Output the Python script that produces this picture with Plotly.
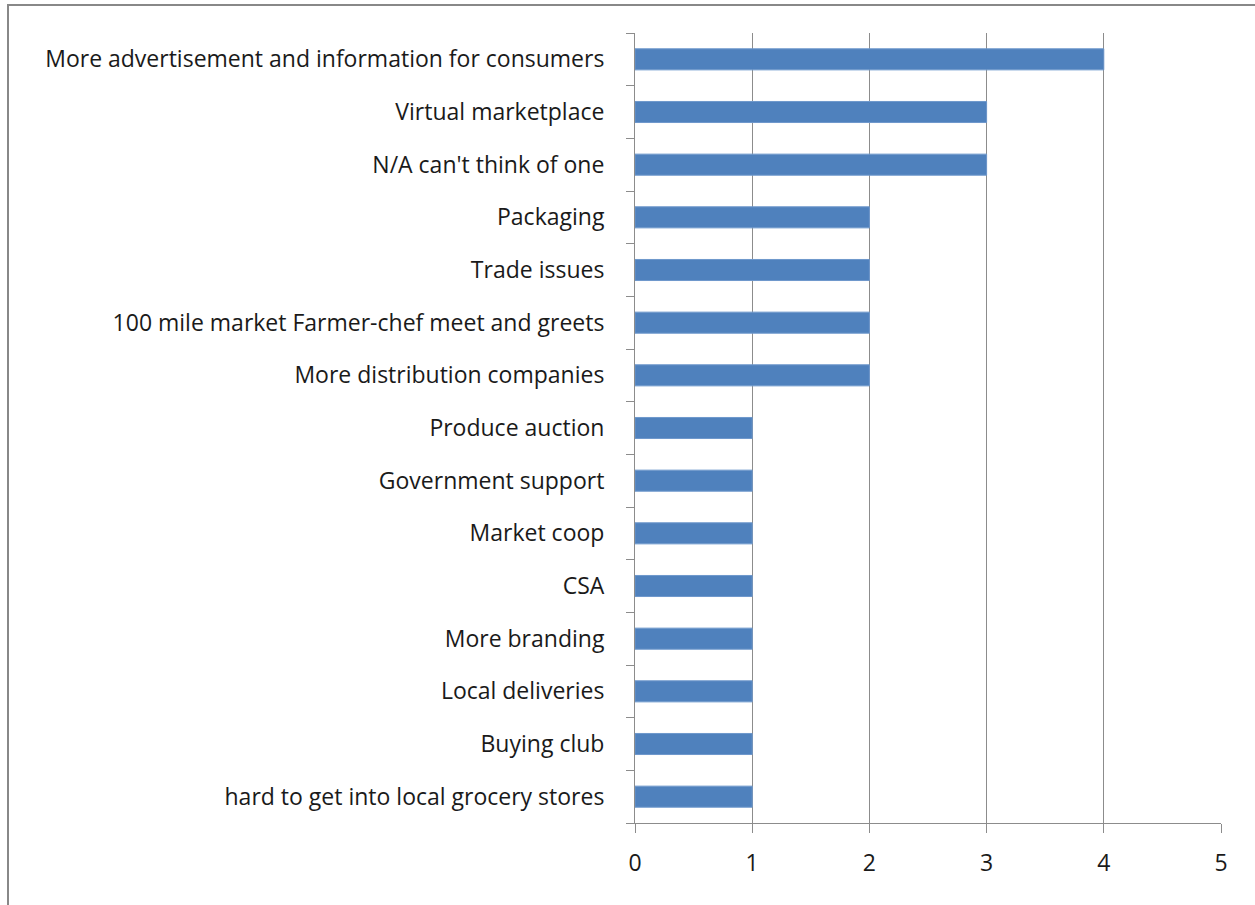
import plotly.graph_objects as go

categories = [
    "More advertisement and information for consumers",
    "Virtual marketplace",
    "N/A can't think of one",
    "Packaging",
    "Trade issues",
    "100 mile market Farmer-chef meet and greets",
    "More distribution companies",
    "Produce auction",
    "Government support",
    "Market coop",
    "CSA",
    "More branding",
    "Local deliveries",
    "Buying club",
    "hard to get into local grocery stores",
]
counts = [4, 3, 3, 2, 2, 2, 2, 1, 1, 1, 1, 1, 1, 1, 1]
x_ticks = [0, 1, 2, 3, 4, 5]

W, H = 1255, 905
L, R, T, B = 635, 34, 33, 82
pw, ph = W - L - R, H - T - B

def px_to_paper_x(px):
    return (px - L) / pw

def px_to_paper_y(py):
    return (H - B - py) / ph

fig = go.Figure(
    go.Bar(
        x=counts,
        y=categories,
        orientation="h",
        marker=dict(color="#4F81BD", line=dict(color="#6E98CC", width=1)),
        width=0.4,
    )
)

axis_font = dict(family="'Open Sans', Lato, sans-serif", size=23, color="#1a1a1a")

fig.update_layout(
    width=W,
    height=H,
    margin=dict(l=L, r=R, t=T, b=B, pad=0),
    paper_bgcolor="white",
    plot_bgcolor="white",
    showlegend=False,
    xaxis=dict(
        range=[0, 5],
        tickvals=x_ticks,
        ticktext=[str(v) for v in x_ticks],
        showgrid=True,
        gridcolor="#8c8c8c",
        gridwidth=1,
        showline=True,
        linecolor="#8c8c8c",
        linewidth=1,
        ticks="outside",
        ticklen=9,
        tickcolor="#8c8c8c",
        tickfont=axis_font,
        ticklabelstandoff=10,
        zeroline=False,
        fixedrange=True,
    ),
    yaxis=dict(
        categoryorder="array",
        categoryarray=categories[::-1],
        range=[-0.5, len(categories) - 0.5],
        showgrid=False,
        showline=True,
        linecolor="#8c8c8c",
        linewidth=1,
        ticks="outside",
        ticklen=8,
        tickcolor="#8c8c8c",
        tickson="boundaries",
        tickfont=axis_font,
        ticklabelstandoff=25,
        fixedrange=True,
    ),
    shapes=[
        dict(
            type="rect",
            xref="paper",
            yref="paper",
            x0=px_to_paper_x(8),
            x1=px_to_paper_x(W + 20),
            y0=px_to_paper_y(H + 20),
            y1=px_to_paper_y(5),
            line=dict(color="#888888", width=2),
            fillcolor="rgba(0,0,0,0)",
            layer="above",
        )
    ],
)

fig.write_html("out.html")
